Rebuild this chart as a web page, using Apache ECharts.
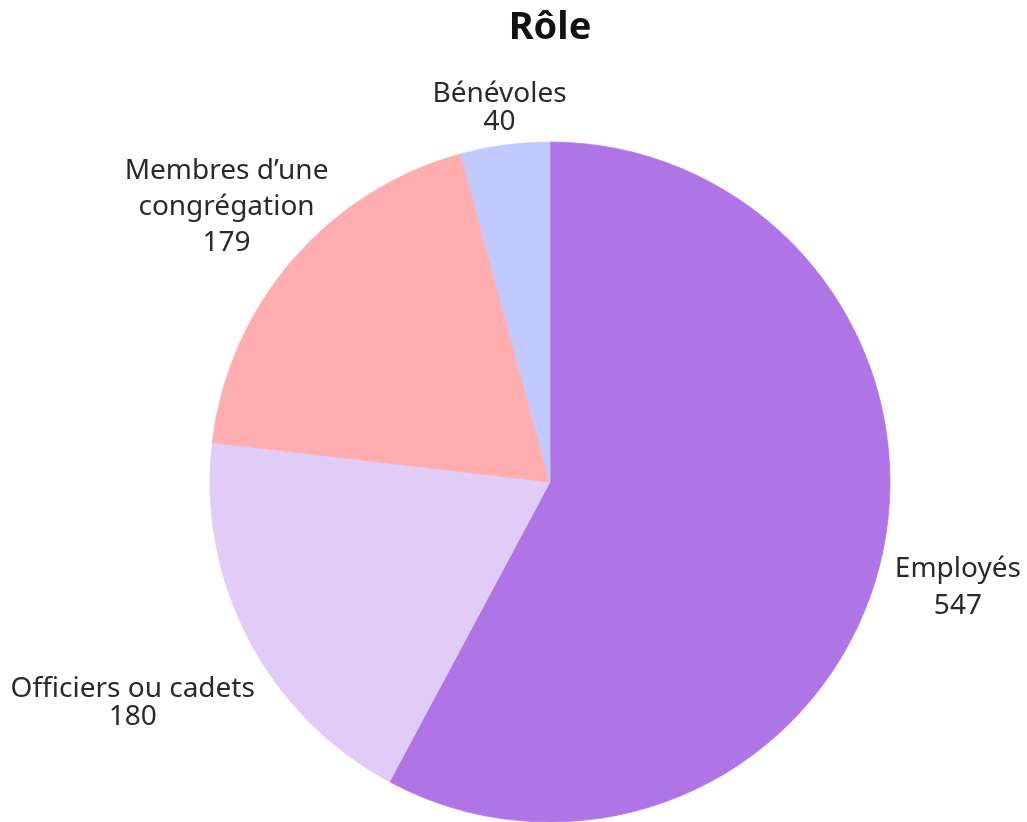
<!DOCTYPE html>
<html>
<head>
<meta charset="utf-8">
<script src="https://cdn.jsdelivr.net/npm/echarts@6/dist/echarts.min.js"></script>
<style>
html,body{margin:0;padding:0;background:#fff;}
#chart{width:1027px;height:822px;}
</style>
</head>
<body>
<div id="chart"></div>
<script>
const titleText = 'Rôle';
const categories = ['Employés', 'Officiers ou cadets', 'Membres d\u2019une\ncongrégation', 'Bénévoles'];
const values = [547, 180, 179, 40];
const colors = ['#AF75E6', '#E1CBF7', '#FFADAE', '#C1CAFF'];

const CX = 550, CY = 482, R = 340, PAD = 600, GAP = 11, BASELINE_SHIFT = 3;
const FONT_SIZE = 28, FONT = 'Noto Sans';
const total = values.reduce((a, b) => a + b, 0);
const midAngles = [];
let cum = 0;
values.forEach(v => { midAngles.push((cum + v / 2) / total * Math.PI * 2); cum += v; });
const lineHeights = [37, 28, 36, 28];

const ctx = document.createElement('canvas').getContext('2d');
ctx.font = FONT_SIZE + 'px "' + FONT + '"';

function rectDist(x0, y0, x1, y1) {
  const dx = Math.max(x0 - CX, 0, CX - x1);
  const dy = Math.max(y0 - CY, 0, CY - y1);
  return Math.sqrt(dx * dx + dy * dy);
}

function placeLabel(i) {
  const lines = (categories[i] + '\n' + values[i]).split('\n');
  const lh = lineHeights[i];
  const H = lines.length * lh;
  const widths = lines.map(s => ctx.measureText(s).width);
  const ux = Math.sin(midAngles[i]), uy = -Math.cos(midAngles[i]);
  let lo = R, hi = R + 400;
  for (let k = 0; k < 40; k++) {
    const t = (lo + hi) / 2;
    const lx = CX + t * ux, ly = CY + t * uy;
    let m = Infinity;
    lines.forEach((s, j) => {
      const y0 = ly - H / 2 + j * lh;
      m = Math.min(m, rectDist(lx - widths[j] / 2, y0, lx + widths[j] / 2, y0 + lh));
    });
    if (m >= R + GAP) hi = t; else lo = t;
  }
  return { x: CX + hi * ux, y: CY + hi * uy + BASELINE_SHIFT };
}

const chart = echarts.init(document.getElementById('chart'));
chart.setOption({
  backgroundColor: '#ffffff',
  graphic: [{
    type: 'text', x: CX, y: 9, silent: true,
    style: {
      text: titleText, align: 'center', verticalAlign: 'top',
      fontFamily: FONT, fontWeight: 'bold', fontSize: 38, fill: '#111'
    }
  }],
  series: [{
    type: 'pie',
    left: -PAD, right: -PAD, top: 0, bottom: 0,
    center: [CX + PAD, CY],
    radius: R,
    startAngle: 90,
    clockwise: true,
    avoidLabelOverlap: false,
    animation: false,
    silent: true,
    label: {
      show: true, position: 'outside',
      formatter: p => p.name + '\n' + p.value,
      fontFamily: FONT, fontSize: FONT_SIZE, color: '#2a2a2a', lineHeight: 30
    },
    labelLine: { show: false, length: 10, length2: 0 },
    labelLayout: function (params) {
      const p = placeLabel(params.dataIndex);
      return { x: p.x, y: p.y, align: 'center', verticalAlign: 'middle' };
    },
    data: categories.map((c, i) => ({
      name: c, value: values[i],
      itemStyle: { color: colors[i], borderColor: colors[i], borderWidth: 0.8 },
      label: { lineHeight: lineHeights[i] }
    }))
  }]
});
</script>
</body>
</html>
